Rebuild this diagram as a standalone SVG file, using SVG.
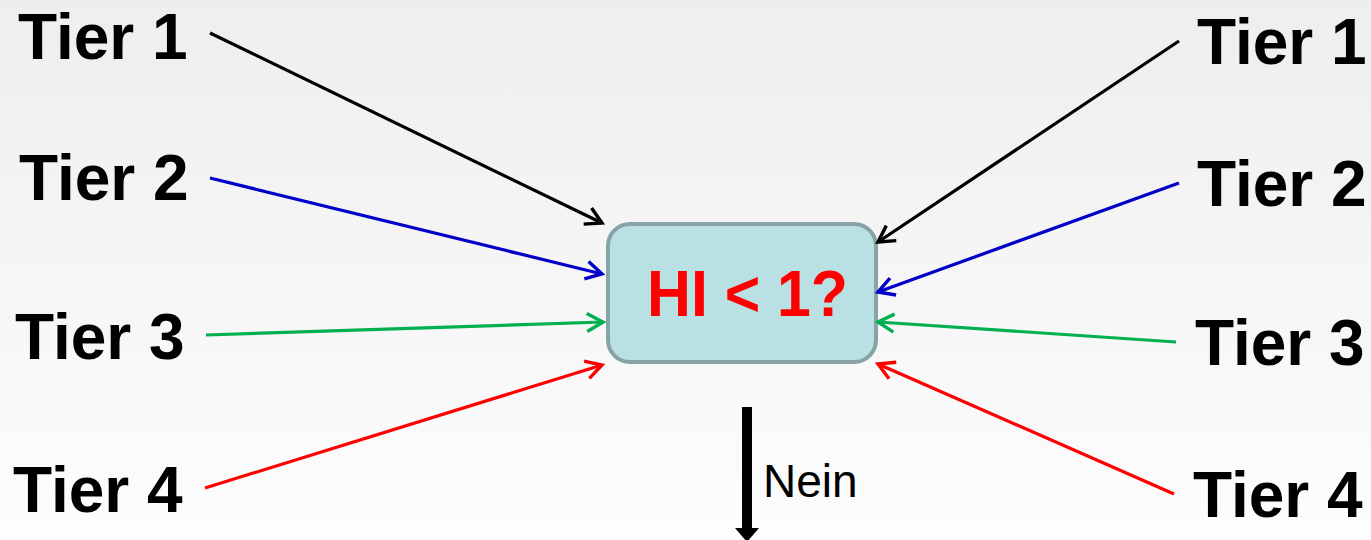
<svg xmlns="http://www.w3.org/2000/svg" width="1371" height="540" viewBox="0 0 1371 540">
  <defs>
    <linearGradient id="bg" x1="0" y1="0" x2="0" y2="1">
      <stop offset="0" stop-color="#eeeeee"/>
      <stop offset="1" stop-color="#fdfdfd"/>
    </linearGradient>
    <marker id="ah-black" markerUnits="userSpaceOnUse" markerWidth="24" markerHeight="24" viewBox="0 0 24 24" refX="20" refY="12" orient="auto">
      <path d="M4,3 L20,12 L4,21" fill="none" stroke="#000000" stroke-width="3.4"/>
    </marker>
    <marker id="ah-blue" markerUnits="userSpaceOnUse" markerWidth="24" markerHeight="24" viewBox="0 0 24 24" refX="20" refY="12" orient="auto">
      <path d="M4,3 L20,12 L4,21" fill="none" stroke="#0000c8" stroke-width="3.4"/>
    </marker>
    <marker id="ah-green" markerUnits="userSpaceOnUse" markerWidth="24" markerHeight="24" viewBox="0 0 24 24" refX="20" refY="12" orient="auto">
      <path d="M4,3 L20,12 L4,21" fill="none" stroke="#00b050" stroke-width="3.4"/>
    </marker>
    <marker id="ah-red" markerUnits="userSpaceOnUse" markerWidth="24" markerHeight="24" viewBox="0 0 24 24" refX="20" refY="12" orient="auto">
      <path d="M4,3 L20,12 L4,21" fill="none" stroke="#ff0000" stroke-width="3.4"/>
    </marker>
  </defs>
  <style>
    .tier { font-family: "Liberation Sans", Arial, sans-serif; font-weight: bold; font-size: 64px; fill: #000000; }
    .link { fill: none; stroke-width: 3.2; }
    .black { stroke: #000000; marker-end: url(#ah-black); }
    .blue { stroke: #0000c8; marker-end: url(#ah-blue); }
    .green { stroke: #00b050; marker-end: url(#ah-green); }
    .red { stroke: #ff0000; marker-end: url(#ah-red); }
  </style>

  <rect x="0" y="0" width="1371" height="540" fill="url(#bg)"/>

  <!-- Decision box -->
  <g id="decision">
    <rect x="608" y="224" width="268" height="138" rx="22" ry="22" fill="#b9e0e3" stroke="#87a3a6" stroke-width="4"/>
    <text x="647" y="316" font-family="'Liberation Sans', Arial, sans-serif" font-weight="bold" font-size="65" fill="#ff0000" textLength="201" lengthAdjust="spacingAndGlyphs">HI &lt; 1?</text>
  </g>

  <!-- Left-hand tiers -->
  <g id="tier1-left"><text class="tier" x="18" y="59">Tier 1</text></g>
  <g id="tier2-left"><text class="tier" x="19" y="200">Tier 2</text></g>
  <g id="tier3-left"><text class="tier" x="15" y="359">Tier 3</text></g>
  <g id="tier4-left"><text class="tier" x="13" y="512">Tier 4</text></g>

  <!-- Right-hand tiers -->
  <g id="tier1-right"><text class="tier" x="1197" y="64">Tier 1</text></g>
  <g id="tier2-right"><text class="tier" x="1197" y="206">Tier 2</text></g>
  <g id="tier3-right"><text class="tier" x="1195" y="365">Tier 3</text></g>
  <g id="tier4-right"><text class="tier" x="1193" y="517">Tier 4</text></g>

  <!-- Connectors -->
  <g id="connectors">
    <line class="link black" x1="210" y1="33" x2="602" y2="223"/>
    <line class="link blue" x1="210" y1="178" x2="602" y2="274"/>
    <line class="link green" x1="206" y1="335" x2="603" y2="322"/>
    <line class="link red" x1="205" y1="488" x2="602" y2="365"/>

    <line class="link black" x1="1179" y1="41" x2="878" y2="242"/>
    <line class="link blue" x1="1179" y1="183" x2="878" y2="292"/>
    <line class="link green" x1="1176" y1="342" x2="878" y2="322"/>
    <line class="link red" x1="1174" y1="494" x2="878" y2="364"/>

    <!-- "Nein" outflow -->
    <line x1="747" y1="407" x2="747" y2="530" stroke="#000000" stroke-width="10"/>
    <polygon points="735,528 759,528 747,542" fill="#000000"/>
    <text x="763" y="497" font-family="'Liberation Sans', Arial, sans-serif" font-size="46" fill="#000000">Nein</text>
  </g>
</svg>
